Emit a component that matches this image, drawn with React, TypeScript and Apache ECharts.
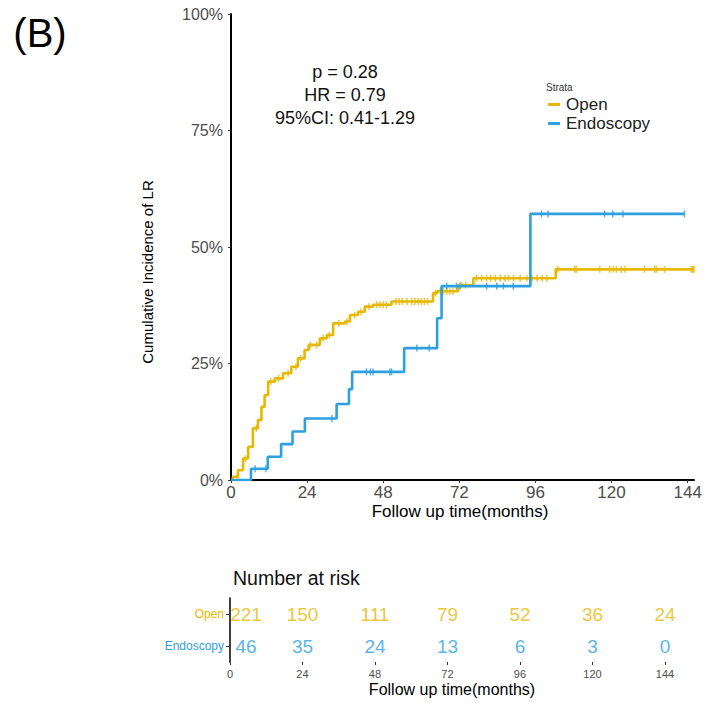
import React, { useEffect, useRef } from 'react';
import * as echarts from 'echarts';

// ---- Data ----
const openSteps: [number, number][] = [
  [0, 0], [0.6, 0.7], [2.2, 2.1], [3.8, 4.6], [5.4, 7.1], [6.9, 11.1], [8.5, 12.9],
  [9.6, 15.7], [10.6, 18.2], [11.7, 21.1], [13.8, 21.8], [16.4, 22.9], [19.0, 24.3],
  [21.1, 26.1], [23.2, 27.9], [24.5, 29.0], [28.0, 30.4], [30.2, 31.1], [32.2, 33.6],
  [35.9, 34.0], [37.5, 35.4], [40.1, 36.1], [42.2, 37.2], [44.8, 37.6], [50.6, 38.3],
  [63.7, 40.1], [65.0, 40.5], [71.6, 41.8], [76.4, 43.3], [102.4, 45.2], [146, 45.2],
];
const endoSteps: [number, number][] = [
  [0, 0], [6.3, 2.4], [11.6, 5.0], [15.8, 7.7], [19.4, 10.4], [23.3, 13.2], [33.3, 16.3],
  [37.2, 19.5], [38.2, 23.2], [54.6, 28.3], [65.0, 34.7], [66.4, 41.6], [94.4, 57.1],
  [143, 57.1],
];
const openCensor = [
  2, 4.5, 8, 12.5, 15, 18, 20.5, 22, 25, 27, 29, 31, 34, 36.5, 39, 41, 43.5, 46, 47, 48, 49,
  52, 53, 54, 55.5, 57, 58, 59, 60, 61, 62, 64.5, 66, 67, 68, 69, 70, 72.5, 74, 77.4, 79,
  80.6, 81.9, 83.3, 84.9, 86.4, 87.5, 89.1, 91.2, 93.3, 94.9, 96.5, 98.1, 99.6, 103.1,
  108.4, 108.9, 116.3, 119.4, 120.5, 121.5, 123.1, 124.2, 130.4, 133.6, 134.1, 136.7,
  145.1, 145.6, 146,
];
const endoCensor = [
  7.6, 11, 31.8, 42.7, 44, 44.8, 50.1, 50.6, 58.6, 62.5, 68, 71.1, 72.2, 80.6, 83.8, 85.9,
  89, 97.9, 100, 117.8, 120.4, 123.6, 143,
];
const timeTicks = [0, 24, 48, 72, 96, 120, 144];
const yTicks = [0, 25, 50, 75, 100];
const riskRows = ['Endoscopy', 'Open'];
const openRisk = [221, 150, 111, 79, 52, 36, 24];
const endoRisk = [46, 35, 24, 13, 6, 3, 0];
const annotation = ['p = 0.28', 'HR = 0.79', '95%CI: 0.41-1.29'];

const OPEN = '#E7B800';
const ENDO = '#2E9FDF';
const FONT = '"Liberation Sans", Arial, sans-serif';

function stepAt(steps: [number, number][], t: number) {
  let v = 0;
  for (const [st, sv] of steps) {
    if (st <= t) v = sv;
    else break;
  }
  return v;
}

export default function App() {
  const ref = useRef<HTMLDivElement>(null);
  useEffect(() => {
    document.body.style.margin = '0';
    const chart = echarts.init(ref.current!, null, { renderer: 'svg' });
    const censorSymbol = { symbol: 'rect', symbolSize: [1.5, 7] };
    const riskData = (row: string, vals: number[]) =>
      vals.map((n, i) => ({
        value: [timeTicks[i], row, n],
        label: i === 0 ? { offset: [16, 0] } : undefined,
      }));
    chart.setOption({
      animation: false,
      textStyle: { fontFamily: FONT },
      grid: [
        { left: 231, top: 14, width: 463, height: 466 },
        { left: 230, top: 598, width: 441, height: 64 },
      ],
      xAxis: [
        {
          gridIndex: 0, type: 'value', min: 0, max: 146,
          axisLine: { lineStyle: { color: '#000', width: 2 } },
          axisTick: { show: true, length: 3, customValues: timeTicks, lineStyle: { color: '#333' } },
          axisLabel: { customValues: timeTicks, color: '#4d4d4d', fontSize: 17, margin: 4, fontFamily: FONT },
          splitLine: { show: false },
        },
        {
          gridIndex: 1, type: 'value', min: 0, max: 146,
          axisLine: { lineStyle: { color: '#000', width: 1.5 } },
          axisTick: { show: true, length: 3, customValues: timeTicks, lineStyle: { color: '#333' } },
          axisLabel: { customValues: timeTicks, color: '#4d4d4d', fontSize: 11, margin: 6, fontFamily: FONT },
          splitLine: { show: false },
        },
      ],
      yAxis: [
        {
          gridIndex: 0, type: 'value', min: 0, max: 100,
          axisLine: { show: true, lineStyle: { color: '#000', width: 2 } },
          axisTick: { show: true, length: 3, customValues: yTicks, lineStyle: { color: '#333' } },
          axisLabel: {
            customValues: yTicks, color: '#4d4d4d', fontSize: 16, margin: 8, fontFamily: FONT,
            formatter: (v: number) => `${v}%`,
          },
          splitLine: { show: false },
        },
        {
          gridIndex: 1, type: 'category', data: riskRows,
          axisLine: { show: true, lineStyle: { color: '#000', width: 1.5 } },
          axisTick: { show: true, length: 4, alignWithLabel: true, lineStyle: { color: '#333' } },
          axisLabel: {
            margin: 6, fontFamily: FONT,
            formatter: (v: string) => `{${v === 'Open' ? 'o' : 'e'}|${v}}`,
            rich: {
              o: { color: OPEN, fontSize: 12, fontFamily: FONT },
              e: { color: ENDO, fontSize: 12, fontFamily: FONT },
            },
          },
        },
      ],
      legend: {
        data: ['Open', 'Endoscopy'],
        orient: 'vertical', left: 548, top: 96, itemGap: 2, padding: 0,
        icon: 'rect', itemWidth: 12, itemHeight: 3,
        textStyle: { fontSize: 17, lineHeight: 17, color: '#222', fontFamily: FONT, padding: [0, 0, 0, 1] },
      },
      series: [
        {
          name: 'Open', type: 'line', step: 'end', xAxisIndex: 0, yAxisIndex: 0,
          data: openSteps, showSymbol: false, symbol: 'none',
          lineStyle: { color: OPEN, width: 2.6 }, itemStyle: { color: OPEN },
        },
        {
          name: 'Endoscopy', type: 'line', step: 'end', xAxisIndex: 0, yAxisIndex: 0,
          data: endoSteps, showSymbol: false, symbol: 'none',
          lineStyle: { color: ENDO, width: 2.6 }, itemStyle: { color: ENDO },
        },
        {
          name: 'Open censor', type: 'scatter', xAxisIndex: 0, yAxisIndex: 0, ...censorSymbol,
          data: openCensor.map((t) => [t, stepAt(openSteps, t)]), itemStyle: { color: OPEN },
        },
        {
          name: 'Endoscopy censor', type: 'scatter', xAxisIndex: 0, yAxisIndex: 0, ...censorSymbol,
          data: endoCensor.map((t) => [t, stepAt(endoSteps, t)]), itemStyle: { color: ENDO },
        },
        {
          name: 'risk open', type: 'scatter', xAxisIndex: 1, yAxisIndex: 1, symbolSize: 0,
          data: riskData('Open', openRisk),
          label: { show: true, position: 'inside', color: OPEN, fontSize: 19, fontFamily: FONT,
            formatter: (p: any) => String(p.value[2]) },
        },
        {
          name: 'risk endo', type: 'scatter', xAxisIndex: 1, yAxisIndex: 1, symbolSize: 0,
          data: riskData('Endoscopy', endoRisk),
          label: { show: true, position: 'inside', color: ENDO, fontSize: 19, fontFamily: FONT,
            formatter: (p: any) => String(p.value[2]) },
        },
      ],
      graphic: [
        { type: 'text', x: 40, y: 33, style: { text: '(B)', fontSize: 40, fill: '#000', fontFamily: FONT, textAlign: 'center', textVerticalAlign: 'middle' } },
        ...annotation.map((s, i) => ({
          type: 'text', x: 345, y: 72 + i * 23,
          style: { text: s, fontSize: 18, fill: '#111', fontFamily: FONT, textAlign: 'center', textVerticalAlign: 'middle' },
        })),
        { type: 'text', x: 546, y: 87, style: { text: 'Strata', fontSize: 10, fill: '#333', fontFamily: FONT, textVerticalAlign: 'middle' } },
        { type: 'text', x: 460, y: 511, style: { text: 'Follow up time(months)', fontSize: 17, fill: '#000', fontFamily: FONT, textAlign: 'center', textVerticalAlign: 'middle' } },
        { type: 'text', x: 147, y: 272, rotation: Math.PI / 2, style: { text: 'Cumulative Incidence of LR', fontSize: 15, fill: '#000', fontFamily: FONT, textAlign: 'center', textVerticalAlign: 'middle' } },
        { type: 'text', x: 233, y: 578, style: { text: 'Number at risk', fontSize: 19.5, fill: '#111', fontFamily: FONT, textVerticalAlign: 'middle' } },
        { type: 'text', x: 452, y: 689, style: { text: 'Follow up time(months)', fontSize: 16, fill: '#000', fontFamily: FONT, textAlign: 'center', textVerticalAlign: 'middle' } },
      ],
    });
    return () => chart.dispose();
  }, []);
  return <div ref={ref} style={{ width: 717, height: 705 }} />;
}
